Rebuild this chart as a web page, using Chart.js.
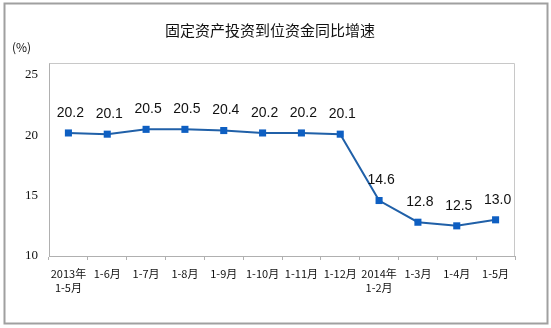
<!DOCTYPE html>
<html><head><meta charset="utf-8">
<script src="https://cdn.jsdelivr.net/npm/chart.js@4/dist/chart.umd.min.js"></script>
<style>html,body{margin:0;padding:0;background:#fff}#wrap{width:551px;height:328px}</style>
</head><body><div id="wrap"><canvas id="c" width="551" height="328"></canvas></div>
<script>
const titleText = "固定资产投资到位资金同比增速";
const unitText = "(%)";
const categories = [["2013年","1-5月"],"1-6月","1-7月","1-8月","1-9月","1-10月","1-11月","1-12月",["2014年","1-2月"],"1-3月","1-4月","1-5月"];
const growthValues = [20.2,20.1,20.5,20.5,20.4,20.2,20.2,20.1,14.6,12.8,12.5,13.0];
const yTicks = [10,15,20,25];

const decor = {
  id: 'decor',
  beforeDraw(chart){
    const ctx = chart.ctx;
    ctx.save();
    ctx.fillStyle = '#fff';
    ctx.fillRect(0,0,chart.width,chart.height);
    ctx.strokeStyle = '#a0a0a0';
    ctx.lineWidth = 2;
    ctx.strokeRect(4.5,3.5,543,320);
    ctx.restore();
  },
  afterDraw(chart){
    const ctx = chart.ctx, a = chart.chartArea;
    ctx.save();
    ctx.strokeStyle = '#c8c8c8';
    ctx.lineWidth = 1;
    ctx.beginPath();
    ctx.moveTo(a.left+0.5, a.top+0.5); ctx.lineTo(a.right-0.5, a.top+0.5); ctx.lineTo(a.right-0.5, a.bottom);
    ctx.stroke();
    ctx.fillStyle = '#111';
    ctx.font = '15px "Noto Sans CJK SC"';
    ctx.textAlign = 'center'; ctx.textBaseline = 'middle';
    ctx.fillText(titleText, 270, 30);
    ctx.font = '12px "Noto Sans CJK SC"';
    ctx.textAlign = 'left';
    ctx.fillText(unitText, 12, 47);
    const meta = chart.getDatasetMeta(0);
    ctx.font = '14px "Liberation Sans"';
    ctx.textAlign = 'center'; ctx.textBaseline = 'middle';
    meta.data.forEach((p,i)=>{
      ctx.fillText(growthValues[i].toFixed(1), p.x + 2, p.y - 20);
    });
    ctx.restore();
  }
};

new Chart(document.getElementById('c'), {
  type: 'line',
  data: {
    labels: categories,
    datasets: [{
      data: growthValues,
      borderColor: '#2060a8',
      borderWidth: 2,
      backgroundColor: '#0e5fc2',
      pointStyle: 'rect',
      pointRadius: 5,
      pointBorderWidth: 0,
      pointBackgroundColor: '#0e5fc2',
      tension: 0
    }]
  },
  options: {
    responsive: false,
    animation: false,
    layout: { padding: { left: 0, right: 36, top: 63, bottom: 0 } },
    plugins: { legend: { display: false }, tooltip: { enabled: false }, title: { display: false } },
    scales: {
      x: {
        offset: true,
        grid: { offset: true, drawOnChartArea: false, drawTicks: true, tickLength: 4, color: '#b0b0b0' },
        border: { color: '#b0b0b0', width: 1 },
        ticks: { color: '#111', font: { family: '"Noto Sans CJK SC"', size: 11, lineHeight: 1.35 }, maxRotation: 0, autoSkip: false, padding: 6 },
        afterFit(s){ s.height = 72; }
      },
      y: {
        min: 10, max: 26,
        afterBuildTicks(s){ s.ticks = yTicks.map(v=>({value:v})); },
        grid: { drawOnChartArea: false, drawTicks: false, tickLength: 0 },
        border: { color: '#b0b0b0', width: 1 },
        ticks: { color: '#111', font: { family: '"Liberation Serif"', size: 13 }, padding: 11 },
        afterFit(s){ s.width = 49; }
      }
    }
  },
  plugins: [decor]
});
</script></body></html>
